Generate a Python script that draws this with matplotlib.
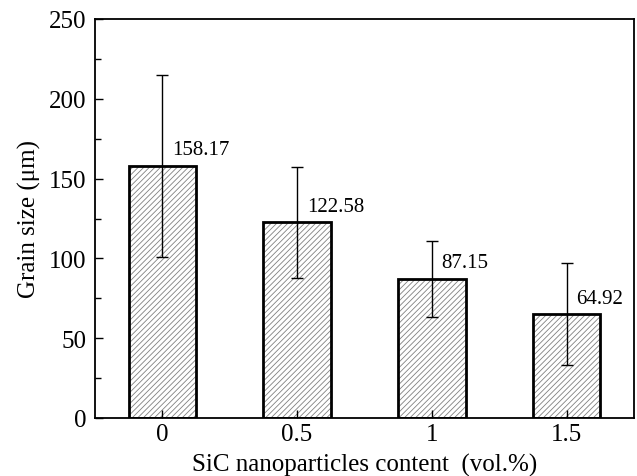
import matplotlib
matplotlib.use("Agg")
from matplotlib import pyplot as plt
from matplotlib.ticker import MultipleLocator

contenido = ["0", "0.5", "1", "1.5"]
tamano = [158.17, 122.58, 87.15, 64.92]
error = [57, 35, 24, 32]

plt.rcParams['font.family'] = ['Liberation Serif', 'DejaVu Serif']
plt.rcParams['hatch.linewidth'] = 0.6

fig = plt.figure(figsize=(6.37, 4.77), dpi=100)
ax = fig.add_axes([95/637, 58/477, 539/637, 399/477])

x = range(len(contenido))
# hatch in gray, then black outline on top
ax.bar(x, tamano, width=0.5, color='white', edgecolor='#808080', hatch='//////', linewidth=0)
ax.bar(x, tamano, width=0.5, color='none', edgecolor='black', linewidth=2.0)
ax.errorbar(x, tamano, yerr=error, fmt='none', ecolor='black', elinewidth=1.0, capsize=4, capthick=1.0)

for i in x:
    ax.annotate(f"{tamano[i]:.2f}", (i, tamano[i] + 10), xytext=(7, 0), textcoords='offset points',
                ha='left', va='center', fontsize=15)

ax.set_xlim(-0.5, 3.5)
ax.set_ylim(0, 250)
ax.set_xticks(list(x))
ax.set_xticklabels(contenido)
ax.yaxis.set_major_locator(MultipleLocator(50))
ax.yaxis.set_minor_locator(MultipleLocator(25))
ax.tick_params(axis='both', which='major', direction='in', length=6, width=1.0, labelsize=18, top=False, right=False)
ax.tick_params(axis='y', which='major', pad=6)
ax.tick_params(axis='y', which='minor', direction='in', length=4, width=1.0, right=False)
for s in ax.spines.values():
    s.set_linewidth(1.3)

ax.set_xlabel('SiC nanoparticles content  (vol.%)', fontsize=18, labelpad=6)
ax.set_ylabel('Grain size (μm)', fontsize=18, labelpad=6)

fig.savefig('out.png', dpi=100)
